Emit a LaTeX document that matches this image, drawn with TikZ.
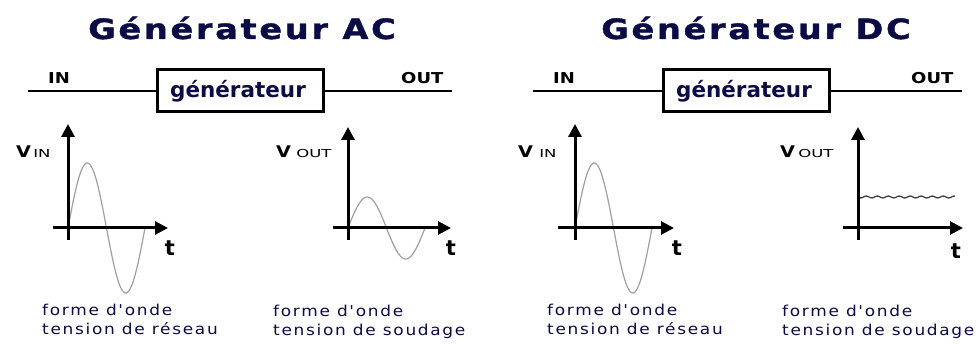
\documentclass[tikz,border=0pt]{standalone}
\usepackage{fontspec}
\setmainfont{DejaVu Sans}
\newfontfamily\capfont[LetterSpace=10]{DejaVu Sans}
\newfontfamily\titlefont[LetterSpace=8,FakeBold=1.2]{DejaVu Sans Bold}
\usetikzlibrary{arrows.meta}
\definecolor{navy}{HTML}{0B0B45}
\definecolor{wave}{HTML}{A0A0A0}
\tikzset{
  titlelbl/.style={inner sep=0pt, anchor=base, text=navy, font=\titlefont\fontsize{28}{32}\selectfont, xscale=1.2},
  genbox/.style={draw=black, line width=3pt, minimum width=166pt, minimum height=42pt, inner sep=0pt},
  gentext/.style={inner sep=0pt, anchor=base, text=navy, font=\bfseries\fontsize{21.5}{24}\selectfont},
  wire/.style={line width=2pt, black},
  portlbl/.style={inner sep=0pt, anchor=base west, font=\bfseries\fontsize{15}{16}\selectfont, xscale=1.2},
  axis/.style={line width=3pt, black, -{Triangle[length=13pt,width=13pt]}},
  sine/.style={line width=1.2pt, wave},
  tlbl/.style={inner sep=0pt, anchor=base, font=\bfseries\fontsize{21}{22}\selectfont},
  vlbl/.style={inner sep=0pt, anchor=base west, font=\bfseries\fontsize{16}{20}\selectfont, xscale=1.2},
  sublbl/.style={inner sep=0pt, anchor=base west, font=\fontsize{11}{12}\selectfont, xscale=1.5},
  caplbl/.style={inner sep=0pt, anchor=base west, align=left, text=navy, font=\capfont\fontsize{15}{19}\selectfont, xscale=1.13}
}
\begin{document}
\begin{tikzpicture}[x=1pt,y=-1pt]
\useasboundingbox[fill=white] (0,0) rectangle (978,344);

% ---------- AC ----------
\node[titlelbl] (tAC) at (242,39) {Générateur AC};
\node[genbox] (bAC) at (240,91) {};
\node[gentext] (gAC) at (238,98) {générateur};
\coordinate (inAC) at (28,91);
\coordinate (outAC) at (452,91);
\draw[wire] (inAC) -- (bAC.west);
\draw[wire] (bAC.east) -- (outAC);
\node[portlbl] (lINac) at (48,84) {IN};
\node[portlbl] (lOUTac) at (401,84) {OUT};

% graph 1
\coordinate (y1b) at (68,240);
\coordinate (y1t) at (68,124);
\coordinate (x1l) at (53,228);
\coordinate (x1r) at (168,228);
\draw[sine] plot[domain=0:77, samples=80, smooth] ({68+\x},{228-65*sin(4.6753*\x)});
\draw[axis] (y1b) -- (y1t);
\draw[axis] (x1l) -- (x1r);
\node[tlbl] (t1) at (170,256) {t};
\node[vlbl] (v1) at (16,158) {V};
\node[sublbl] (v1s) at (33,158) {IN};
\node[caplbl] (c1) at (42,335) {forme d'onde\\tension de réseau};

% graph 2
\coordinate (y2b) at (348,240);
\coordinate (y2t) at (348,127);
\coordinate (x2l) at (333,228);
\coordinate (x2r) at (451,228);
\draw[sine] plot[domain=0:77, samples=80, smooth] ({348+\x},{228-31*sin(4.6753*\x)});
\draw[axis] (y2b) -- (y2t);
\draw[axis] (x2l) -- (x2r);
\node[tlbl] (t2) at (451,256) {t};
\node[vlbl] (v2) at (276,158) {V};
\node[sublbl] (v2s) at (296,158) {OUT};
\node[caplbl] (c2) at (273,336) {forme d'onde\\tension de soudage};

% ---------- DC ----------
\node[titlelbl] (tDC) at (756,39) {Générateur DC};
\node[genbox] (bDC) at (746,91) {};
\node[gentext] (gDC) at (744,98) {générateur};
\coordinate (inDC) at (533,91);
\coordinate (outDC) at (962,91);
\draw[wire] (inDC) -- (bDC.west);
\draw[wire] (bDC.east) -- (outDC);
\node[portlbl] (lINdc) at (553,84) {IN};
\node[portlbl] (lOUTdc) at (911,84) {OUT};

% graph 3
\coordinate (y3b) at (575,240);
\coordinate (y3t) at (575,124);
\coordinate (x3l) at (558,228);
\coordinate (x3r) at (674,228);
\draw[sine] plot[domain=0:77, samples=80, smooth] ({575+\x},{228-65*sin(4.6753*\x)});
\draw[axis] (y3b) -- (y3t);
\draw[axis] (x3l) -- (x3r);
\node[tlbl] (t3) at (677,256) {t};
\node[vlbl] (v3) at (518,158) {V};
\node[sublbl] (v3s) at (539,158) {IN};
\node[caplbl] (c3) at (547,335) {forme d'onde\\tension de réseau};

% graph 4
\coordinate (y4b) at (858,240);
\coordinate (y4t) at (858,127);
\coordinate (x4l) at (843,228);
\coordinate (x4r) at (963,228);
\draw[line width=1.3pt, black!75] plot[domain=0:97, samples=90, smooth] ({858+\x},{197+0.9*sin(32.727*\x)});
\draw[axis] (y4b) -- (y4t);
\draw[axis] (x4l) -- (x4r);
\node[tlbl] (t4) at (956,259) {t};
\node[vlbl] (v4) at (780,158) {V};
\node[sublbl] (v4s) at (798,158) {OUT};
\node[caplbl] (c4) at (782,336) {forme d'onde\\tension de soudage};
\end{tikzpicture}
\end{document}
